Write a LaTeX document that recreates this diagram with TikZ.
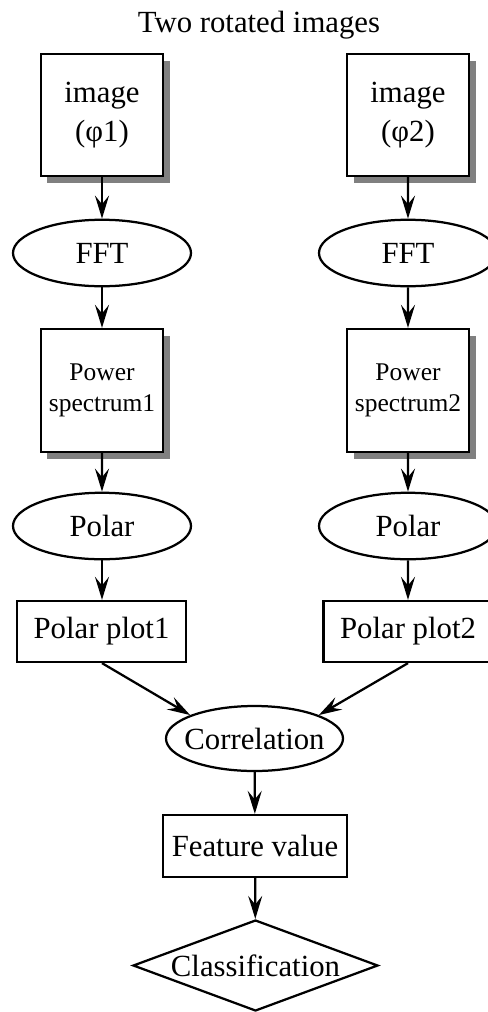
\documentclass[tikz,border=0pt]{standalone}
\usepackage{fontspec}
\setmainfont{Liberation Serif}
\usetikzlibrary{shapes.geometric,arrows.meta,shadows}

\begin{document}
\begin{tikzpicture}[scale=0.2]
    \tikzstyle{every node}+=[inner sep=0pt, font=\fontsize{35}{45}\selectfont, align=center]
    \tikzstyle{box}=[draw=black, line width=0.09cm, rectangle]
    \tikzstyle{shadowbox}=[box, fill=white, drop shadow={shadow xshift=0.26cm, shadow yshift=-0.26cm, fill=black!50, opacity=1}]
    \tikzstyle{oval}=[draw=black, line width=0.09cm, ellipse, inner xsep=-0.9cm, minimum width=7.12cm, minimum height=2.66cm]
    \tikzstyle{flow}=[draw=black, line width=0.09cm, -{Stealth[length=0.92cm, width=0.56cm, inset=0.34cm]}]
    \useasboundingbox (0,0) rectangle (97.6,-202.4);
    \node (title) at (51.8,-5) {Two rotated images};
    \node [shadowbox, minimum width=4.88cm, minimum height=4.88cm] (img1) at (20.4,-23) {image\\(φ1)};
    \node [shadowbox, minimum width=4.88cm, minimum height=4.88cm] (img2) at (81.6,-23) {image\\(φ2)};
    \node [oval] (fft1) at (20.4,-50.6) {FFT};
    \node [oval] (fft2) at (81.6,-50.6) {FFT};
    \node [shadowbox, minimum width=4.88cm, minimum height=4.92cm, font=\fontsize{29}{35}\selectfont] (pow1) at (20.4,-78.1) {Power\\spectrum1};
    \node [shadowbox, minimum width=4.88cm, minimum height=4.92cm, font=\fontsize{29}{35}\selectfont] (pow2) at (81.6,-78.1) {Power\\spectrum2};
    \node [oval] (polar1) at (20.4,-105.2) {Polar};
    \node [oval] (polar2) at (81.6,-105.2) {Polar};
    \node [box, minimum width=6.76cm, minimum height=2.44cm] (plot1) at (20.3,-126.3) {Polar plot1};
    \node [box, minimum width=6.76cm, minimum height=2.44cm] (plot2) at (81.6,-126.3) {Polar plot2};
    \node [oval, minimum width=7.08cm, minimum height=2.6cm] (corr) at (50.9,-147.7) {Correlation};
    \node [box, minimum width=7.36cm, minimum height=2.48cm] (feat) at (51,-169.2) {Feature value};
    \node [draw=black, line width=0.09cm, diamond, aspect=2.7, inner xsep=-0.2cm, minimum width=9.8cm, minimum height=3.64cm] (cls) at (51.1,-193.1) {Classification};
    \draw [flow] (img1) -- (fft1);
    \draw [flow] (img2) -- (fft2);
    \draw [flow] (fft1) -- (pow1);
    \draw [flow] (fft2) -- (pow2);
    \draw [flow] (pow1) -- (polar1);
    \draw [flow] (pow2) -- (polar2);
    \draw [flow] (polar1) -- (plot1.north -| polar1);
    \draw [flow] (polar2) -- (plot2);
    \draw [flow] (plot1.south -| polar1) -- (corr.160);
    \draw [flow] (plot2.south) -- (corr.20);
    \draw [flow] (corr) -- (feat);
    \draw [flow] (feat) -- (cls);
\end{tikzpicture}
\end{document}
